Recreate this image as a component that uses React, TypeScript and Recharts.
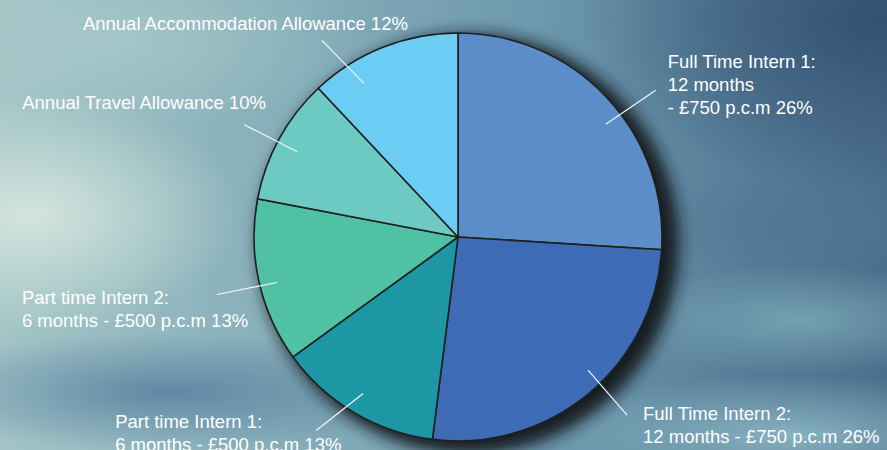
import { PieChart, Pie, Cell } from 'recharts';

const categories = [
    'Full Time Intern 1',
    'Full Time Intern 2',
    'Part time Intern 1',
    'Part time Intern 2',
    'Annual Travel Allowance',
    'Annual Accommodation Allowance',
];
const shares = [26, 26, 13, 13, 10, 12];
// label lines as printed; the percent is appended to the last line
const labelText = [
    ['Full Time Intern 1:', '12 months', '- £750 p.c.m'],
    ['Full Time Intern 2:', '12 months - £750 p.c.m'],
    ['Part time Intern 1:', '6 months - £500 p.c.m'],
    ['Part time Intern 2:', '6 months - £500 p.c.m'],
    ['Annual Travel Allowance'],
    ['Annual Accommodation Allowance'],
];

const sliceColors = ['#5b8dc9', '#3e6bb5', '#1c97a3', '#50c2a3', '#6dcac2', '#6ccdf4'];
// leader line start, line end and text origin, relative to the slice's outer mid point
const labelLayout = [
    { start: [-1, 27], end: [49, -7], text: [61, -36] },
    { start: [0, -24], end: [39, 21], text: [55, 19] },
    { start: [9, -19], end: [-38, 18], text: [-239, 9] },
    { start: [18, 1], end: [-42, 13], text: [-237, 16] },
    { start: [18, 13], end: [-35, -14], text: [-257, -36] },
    { start: [-19, 36], end: [-61, -7], text: [-300, -24] },
];

const data = categories.map((name, i) => ({ name, value: shares[i] }));
const shadowData = [{ name: 'shadow', value: 1 }];

const RADIAN = Math.PI / 180;
const FONT = '"Liberation Sans", Arial, sans-serif';

const renderLabel = ({ cx, cy, midAngle, outerRadius, index, value }: any) => {
    const ex = cx + outerRadius * Math.cos(-midAngle * RADIAN);
    const ey = cy + outerRadius * Math.sin(-midAngle * RADIAN);
    const { start, end, text } = labelLayout[index];
    const lines = labelText[index].map((t, i, arr) => (i === arr.length - 1 ? `${t} ${value}%` : t));
    return (
        <g>
            <line
                x1={ex + start[0]}
                y1={ey + start[1]}
                x2={ex + end[0]}
                y2={ey + end[1]}
                stroke="#f4f8f8"
                strokeWidth={1.2}
            />
            {lines.map((t, i) => (
                <text
                    key={i}
                    x={ex + text[0]}
                    y={ey + text[1] + i * 23}
                    fill="#ffffff"
                    fontSize={18.5}
                    fontFamily={FONT}
                    dominantBaseline="central"
                    textAnchor="start"
                >
                    {t}
                </text>
            ))}
        </g>
    );
};

const background = [
    'radial-gradient(ellipse 210px 120px at 30px 215px, rgba(214,230,222,0.95), rgba(214,230,222,0) 100%)',
    'radial-gradient(ellipse 260px 90px at 110px 40px, rgba(172,205,205,0.6), rgba(172,205,205,0) 100%)',
    'radial-gradient(ellipse 300px 170px at 880px 20px, rgba(50,80,112,0.95), rgba(50,80,112,0) 100%)',
    'radial-gradient(ellipse 270px 60px at 170px 392px, rgba(88,128,160,0.85), rgba(88,128,160,0) 100%)',
    'radial-gradient(ellipse 200px 55px at 800px 320px, rgba(125,170,185,0.8), rgba(125,170,185,0) 100%)',
    'radial-gradient(ellipse 260px 60px at 790px 435px, rgba(140,184,196,0.9), rgba(140,184,196,0) 100%)',
    'radial-gradient(ellipse 180px 50px at 810px 225px, rgba(80,118,146,0.7), rgba(80,118,146,0) 100%)',
    'linear-gradient(90deg, #a2c4c6 0%, #88b0ba 30%, #6e99ae 60%, #557c97 85%, #4b6e8c 100%)',
].join(', ');

export default function App() {
    return (
        <div style={{ position: 'absolute', left: 0, top: 0, width: 887, height: 450, background, overflow: 'hidden' }}>
            <PieChart width={887} height={450} margin={{ top: 0, right: 0, bottom: 0, left: 0 }}>
                <defs>
                    <filter id="pieShadow" x="-30%" y="-30%" width="160%" height="160%">
                        <feGaussianBlur stdDeviation="8" />
                    </filter>
                </defs>
                <Pie
                    data={shadowData}
                    dataKey="value"
                    cx={469}
                    cy={244}
                    outerRadius={210}
                    stroke="none"
                    isAnimationActive={false}
                    legendType="none"
                >
                    <Cell fill="#141b20" filter="url(#pieShadow)" />
                </Pie>
                <Pie
                    data={data}
                    dataKey="value"
                    nameKey="name"
                    cx={458}
                    cy={237}
                    outerRadius={204}
                    startAngle={90}
                    endAngle={-270}
                    stroke="#1f1f1f"
                    strokeWidth={1.6}
                    label={renderLabel}
                    labelLine={false}
                    isAnimationActive={false}
                >
                    {data.map((d, i) => (
                        <Cell key={d.name} fill={sliceColors[i]} />
                    ))}
                </Pie>
            </PieChart>
        </div>
    );
}
